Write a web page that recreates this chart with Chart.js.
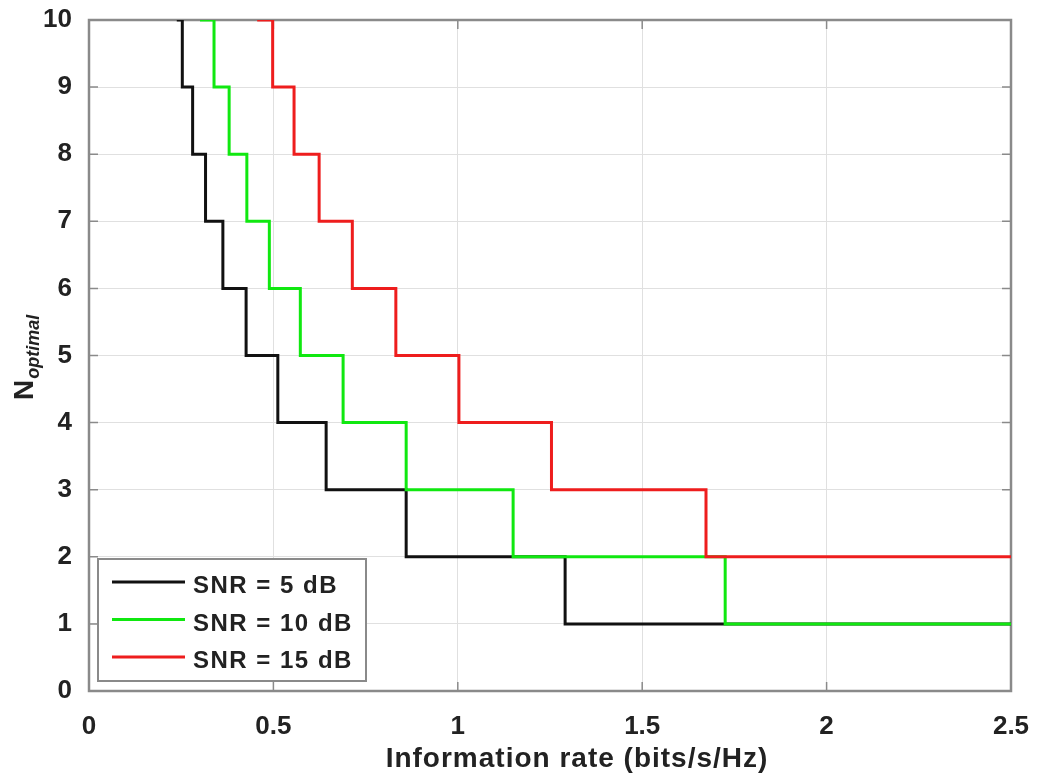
<!DOCTYPE html>
<html>
<head>
<meta charset="utf-8">
<title>N optimal vs information rate</title>
<script src="https://cdn.jsdelivr.net/npm/chart.js@4.4.1/dist/chart.umd.min.js"></script>
<style>
  body { margin: 0; background: #fff; }
</style>
</head>
<body>
<canvas id="rateChart" width="1038" height="778"></canvas>
<script>
// rate (bits/s/Hz) at which N_optimal steps down by one, per SNR
const rate5dB  = [0.238, 0.253, 0.281, 0.316, 0.363, 0.426, 0.512, 0.643, 0.860, 1.291, 2.5];
const nOpt5dB  = [10, 9, 8, 7, 6, 5, 4, 3, 2, 1, 1];
const rate10dB = [0.301, 0.339, 0.380, 0.428, 0.489, 0.573, 0.689, 0.860, 1.150, 1.725, 2.5];
const nOpt10dB = [10, 9, 8, 7, 6, 5, 4, 3, 2, 1, 1];
const rate15dB = [0.456, 0.498, 0.556, 0.624, 0.714, 0.832, 1.003, 1.254, 1.673, 2.5];
const nOpt15dB = [10, 9, 8, 7, 6, 5, 4, 3, 2, 2];

const seriesLabels = ["SNR = 5 dB", "SNR = 10 dB", "SNR = 15 dB"];
const seriesColors = ["#111111", "#10e810", "#ee1d1d"];

const xTicks = [0, 0.5, 1, 1.5, 2, 2.5];
const yTicks = [0, 1, 2, 3, 4, 5, 6, 7, 8, 9, 10];

const textColor = "#222222";
const frameColor = "#8a8a8a";
const fontFamily = "'Liberation Sans', Arial, sans-serif";

function toPoints(xs, ys) {
    return xs.map((x, i) => ({ x: x, y: ys[i] }));
}

// keep the plot box where it is: no extra room for edge labels
function fixAxis(axis, size) {
    if (axis.isHorizontal()) axis.height = size; else axis.width = size;
    axis.paddingTop = 0;
    axis.paddingBottom = 0;
    axis.paddingLeft = 0;
    axis.paddingRight = 0;
}

// box, inward ticks, legend and axis titles drawn the MATLAB way
const frame = {
    id: "frame",
    beforeDatasetsDraw(chart) {
        const ctx = chart.ctx;
        const a = chart.chartArea;
        const xs = chart.scales.x;
        const ys = chart.scales.y;
        ctx.save();
        ctx.strokeStyle = frameColor;
        ctx.lineWidth = 1.5;
        ctx.beginPath();
        xTicks.forEach(v => {
            const px = xs.getPixelForValue(v);
            ctx.moveTo(px, a.bottom); ctx.lineTo(px, a.bottom - 9);
            ctx.moveTo(px, a.top); ctx.lineTo(px, a.top + 9);
        });
        yTicks.forEach(v => {
            const py = ys.getPixelForValue(v);
            ctx.moveTo(a.left, py); ctx.lineTo(a.left + 9, py);
            ctx.moveTo(a.right, py); ctx.lineTo(a.right - 9, py);
        });
        ctx.stroke();
        ctx.lineWidth = 2.5;
        ctx.strokeRect(a.left, a.top, a.right - a.left, a.bottom - a.top);
        ctx.restore();
    },
    afterDatasetsDraw(chart) {
        const ctx = chart.ctx;
        ctx.save();
        // legend box
        ctx.fillStyle = "#ffffff";
        ctx.fillRect(98, 559, 268, 122);
        ctx.strokeStyle = frameColor;
        ctx.lineWidth = 2;
        ctx.strokeRect(98, 559, 268, 122);
        ctx.font = "bold 24px " + fontFamily;
        ctx.letterSpacing = "1.5px";
        ctx.textAlign = "left";
        ctx.textBaseline = "alphabetic";
        chart.data.datasets.forEach((ds, i) => {
            const ly = 582 + i * 37.5;
            ctx.strokeStyle = ds.borderColor;
            ctx.lineWidth = 3;
            ctx.beginPath();
            ctx.moveTo(112, ly);
            ctx.lineTo(185, ly);
            ctx.stroke();
            ctx.fillStyle = textColor;
            ctx.fillText(ds.label, 193, ly + 11);
        });
        ctx.restore();
    },
    afterDraw(chart) {
        const ctx = chart.ctx;
        ctx.save();
        ctx.fillStyle = textColor;
        ctx.letterSpacing = "1px";
        ctx.font = "bold 28px " + fontFamily;
        ctx.textAlign = "center";
        ctx.textBaseline = "alphabetic";
        ctx.fillText("Information rate (bits/s/Hz)", 577, 767);

        // N with subscript "optimal", rotated
        ctx.letterSpacing = "0px";
        ctx.translate(33, 400);
        ctx.rotate(-Math.PI / 2);
        ctx.textAlign = "left";
        ctx.font = "bold 28px " + fontFamily;
        ctx.fillText("N", 0, 0);
        const w = ctx.measureText("N").width;
        ctx.font = "italic bold 18px " + fontFamily;
        ctx.fillText("optimal", w + 1, 6);
        ctx.restore();
    }
};

const tickFont = { family: fontFamily, size: 26, weight: "bold" };

new Chart(document.getElementById("rateChart"), {
    type: "line",
    data: {
        datasets: [
            { label: seriesLabels[0], data: toPoints(rate5dB, nOpt5dB), borderColor: seriesColors[0], order: 3 },
            { label: seriesLabels[1], data: toPoints(rate10dB, nOpt10dB), borderColor: seriesColors[1], order: 2 },
            { label: seriesLabels[2], data: toPoints(rate15dB, nOpt15dB), borderColor: seriesColors[2], order: 1 }
        ]
    },
    options: {
        responsive: false,
        animation: false,
        layout: { padding: { top: 20, right: 27, left: 0, bottom: 0 } },
        elements: {
            line: { borderWidth: 3, stepped: true, fill: false },
            point: { radius: 0, hoverRadius: 0 }
        },
        plugins: {
            legend: { display: false },
            tooltip: { enabled: false }
        },
        scales: {
            x: {
                type: "linear",
                min: 0,
                max: 2.5,
                afterBuildTicks: axis => { axis.ticks = xTicks.map(v => ({ value: v })); },
                afterFit: axis => fixAxis(axis, 87),
                grid: { color: "#e0e0e0", lineWidth: 1, drawTicks: false },
                border: { display: false },
                ticks: { font: tickFont, color: textColor, padding: 20, maxRotation: 0, callback: v => String(v) }
            },
            y: {
                type: "linear",
                min: 0,
                max: 10,
                afterBuildTicks: axis => { axis.ticks = yTicks.map(v => ({ value: v })); },
                afterFit: axis => fixAxis(axis, 89),
                grid: { color: "#e0e0e0", lineWidth: 1, drawTicks: false },
                border: { display: false },
                ticks: { font: tickFont, color: textColor, padding: 17, callback: v => String(v) }
            }
        }
    },
    plugins: [frame]
});
</script>
</body>
</html>
